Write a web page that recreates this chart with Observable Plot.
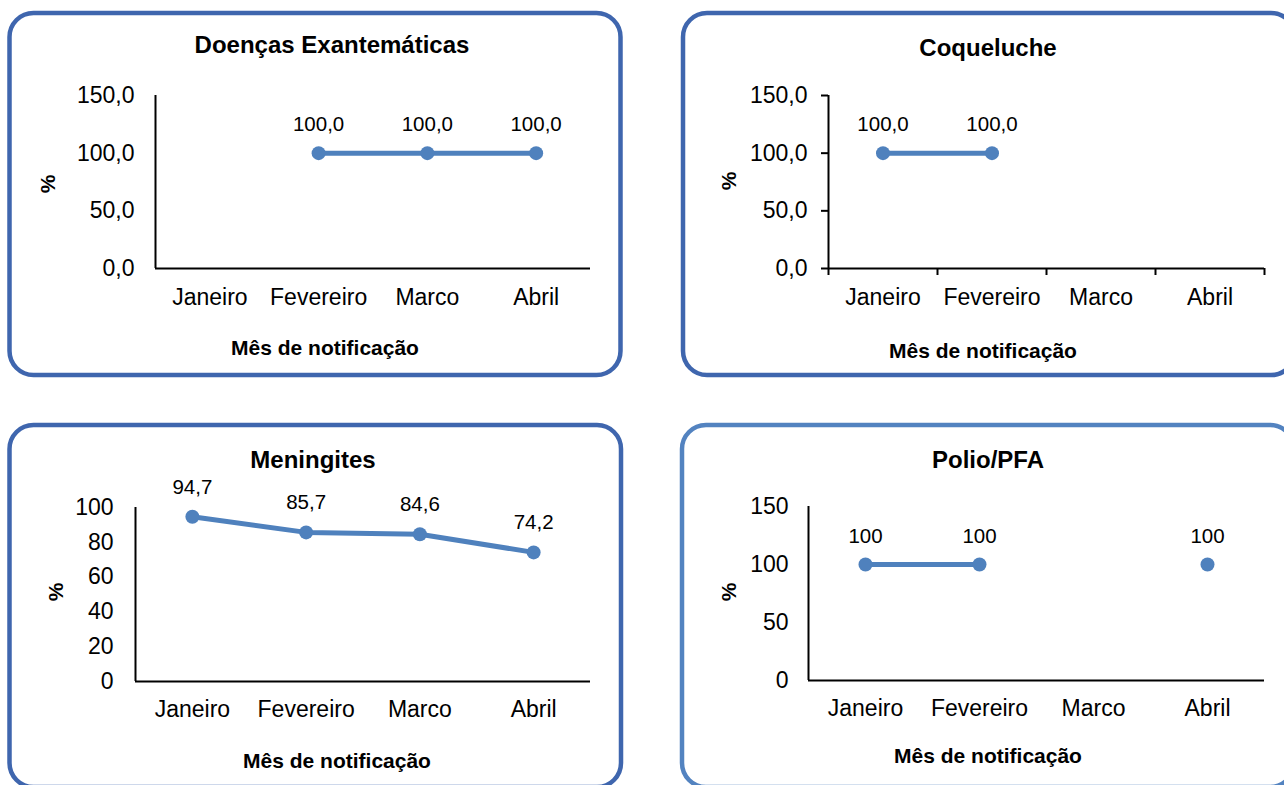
<!DOCTYPE html>
<html>
<head>
<meta charset="utf-8">
<script src="https://cdn.jsdelivr.net/npm/d3@7"></script>
<script src="https://cdn.jsdelivr.net/npm/@observablehq/plot@0.6"></script>
<style>
  html, body { margin: 0; padding: 0; background: #fff; }
  #root { position: relative; width: 1284px; height: 785px; overflow: hidden; background: #fff; }
  .panel { position: absolute; }
  #overlay { position: absolute; left: 0; top: 0; pointer-events: none; }
</style>
</head>
<body>
<div id="root"></div>
<script>
// ---- data ----
const months = ["Janeiro", "Fevereiro", "Marco", "Abril"];
const exantematicas = [null, 100, 100, 100];
const coqueluche = [100, 100, null, null];
const meningites = [94.7, 85.7, 84.6, 74.2];
const polio = [100, 100, null, 100];
const ticks150 = [0, 50, 100, 150];
const ticks100 = [0, 20, 40, 60, 80, 100];
const titles = ["Doenças Exantemáticas", "Coqueluche", "Meningites", "Polio/PFA"];
const xTitle = "Mês de notificação";
const yTitle = "%";

const fmt1 = v => v.toFixed(1).replace(".", ",");
const fmt0 = v => String(Math.round(v));

const FONT = "'Liberation Sans', Arial, Helvetica, sans-serif";
const LINE = "#4F81BD";

// ---- layout ----
const panels = [
  { values: exantematicas, yMax: 150, yTicks: ticks150, yFmt: fmt1, dFmt: fmt1,
    left: 0, top: 0, width: 640, height: 395, mL: 155, mR: 50, mT: 95, mB: 127,
    yTickSize: 0, yPad: 21, xPad: 20, boundary: false, dy: -22 },
  { values: coqueluche, yMax: 150, yTicks: ticks150, yFmt: fmt1, dFmt: fmt1,
    left: 640, top: 0, width: 644, height: 395, mL: 188, mR: 20, mT: 95, mB: 127,
    yTickSize: 7, yPad: 14, xPad: 20, boundary: true, dy: -22 },
  { values: meningites, yMax: 100, yTicks: ticks100, yFmt: fmt0, dFmt: fmt1,
    left: 0, top: 395, width: 640, height: 390, mL: 135, mR: 50, mT: 112, mB: 104,
    yTickSize: 0, yPad: 22, xPad: 19, boundary: false, dy: -23 },
  { values: polio, yMax: 150, yTicks: ticks150, yFmt: fmt0, dFmt: fmt0,
    left: 640, top: 395, width: 644, height: 390, mL: 168, mR: 20, mT: 111, mB: 105,
    yTickSize: 0, yPad: 20, xPad: 19, boundary: false, dy: -22 }
];

const root = document.getElementById("root");

panels.forEach(p => {
  const rows = months.map((m, i) => ({ pos: i + 0.5, month: m, v: p.values[i] == null ? NaN : p.values[i] }));
  const present = rows.filter(d => !isNaN(d.v));
  const marks = [
    Plot.axisY({ ticks: p.yTicks, tickFormat: p.yFmt, tickSize: p.yTickSize, tickPadding: p.yPad,
                 strokeWidth: 2, fontSize: 23, label: null }),
    Plot.axisX({ ticks: months.map((m, i) => i + 0.5), tickFormat: v => months[Math.floor(v)],
                 tickSize: 0, tickPadding: p.xPad, fontSize: 23, label: null })
  ];
  if (p.boundary) {
    marks.push(Plot.axisX({ ticks: d3.range(months.length + 1), tickFormat: () => "",
                            tickSize: 7, strokeWidth: 2, label: null }));
  }
  marks.push(
    Plot.ruleY([0], { stroke: "#000", strokeWidth: 2 }),
    Plot.ruleX([0], { stroke: "#000", strokeWidth: 2 }),
    Plot.line(rows, { x: "pos", y: "v", stroke: LINE, strokeWidth: 5 }),
    Plot.dot(present, { x: "pos", y: "v", r: 7, fill: LINE, stroke: "none" }),
    Plot.text(present, { x: "pos", y: "v", text: d => p.dFmt(d.v), dy: p.dy, lineAnchor: "bottom",
                         fontSize: 20.5, fill: "#000" })
  );
  const chart = Plot.plot({
    width: p.width, height: p.height,
    marginLeft: p.mL, marginRight: p.mR, marginTop: p.mT, marginBottom: p.mB,
    x: { type: "linear", domain: [0, months.length], label: null },
    y: { type: "linear", domain: [0, p.yMax], label: null },
    style: { fontFamily: FONT, fontSize: "23px", color: "#000", background: "transparent", overflow: "visible" },
    marks
  });
  const div = document.createElement("div");
  div.className = "panel";
  div.style.left = p.left + "px";
  div.style.top = p.top + "px";
  div.appendChild(chart);
  root.appendChild(div);
});

// ---- frames and titles ----
const frames = [
  { x: 9.5, y: 13, w: 611, h: 362, c: "#3F66AE" },
  { x: 683, y: 13, w: 612, h: 362, c: "#3F66AE" },
  { x: 9.5, y: 425, w: 611.5, h: 362, c: "#3F66AE" },
  { x: 682, y: 425, w: 612, h: 362, c: "#5383C0" }
];
const titlePos = [[332, 53], [988, 56], [313, 468], [988, 468]];
const xTitlePos = [[325, 355], [983, 358], [337, 768], [988, 763]];
const yTitlePos = [[47, 184], [728, 181], [55, 592], [728, 592]];

const svg = d3.select(root).append("svg")
  .attr("id", "overlay").attr("width", 1284).attr("height", 785)
  .style("font-family", FONT);

frames.forEach((f, i) => {
  svg.append("rect").attr("x", f.x).attr("y", f.y).attr("width", f.w).attr("height", f.h)
    .attr("rx", 24).attr("ry", 24).attr("fill", "none").attr("stroke", f.c).attr("stroke-width", 4.5);
  svg.append("text").attr("x", titlePos[i][0]).attr("y", titlePos[i][1])
    .attr("text-anchor", "middle").attr("font-weight", "bold").attr("font-size", 24)
    .attr("fill", "#000").text(titles[i]);
  svg.append("text").attr("x", xTitlePos[i][0]).attr("y", xTitlePos[i][1])
    .attr("text-anchor", "middle").attr("font-weight", "bold").attr("font-size", 21)
    .attr("fill", "#000").text(xTitle);
  svg.append("text")
    .attr("transform", `translate(${yTitlePos[i][0]},${yTitlePos[i][1]}) rotate(-90)`)
    .attr("text-anchor", "middle").attr("dominant-baseline", "central")
    .attr("font-weight", "bold").attr("font-size", 21).attr("fill", "#000").text(yTitle);
});
</script>
</body>
</html>
